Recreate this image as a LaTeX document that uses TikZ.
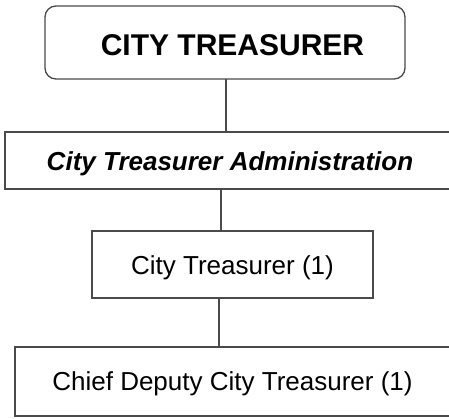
\documentclass[tikz,border=0pt]{standalone}
\usepackage{fontspec}
\setmainfont{Liberation Sans}
\begin{document}
\begin{tikzpicture}[x=1pt,y=-1pt,
  box/.style={draw=boxgray, line width=1.3pt, inner sep=0pt, outer sep=0pt, anchor=north west},
  lbl/.style={inner sep=0pt, anchor=base, font=\fontsize{26}{30}\selectfont, text=black},
  conn/.style={draw=boxgray, line width=1.3pt}]
\definecolor{boxgray}{HTML}{4A4A4A}
\useasboundingbox (0,0) rectangle (449,418);
\clip (0,0) rectangle (449,418);
\fill[white] (0,0) rectangle (449,418);
% boxes
\node[box, rounded corners=11pt, minimum width=360pt, minimum height=73pt] (b1) at (45,6) {};
\node[box, minimum width=480pt, minimum height=57pt] (b2) at (5,132) {};
\node[box, minimum width=281pt, minimum height=67pt] (b3) at (92,231) {};
\node[box, minimum width=480pt, minimum height=69pt] (b4) at (15,347) {};
% labels
\node[lbl, font=\fontsize{30}{34}\selectfont\bfseries] (t1) at (232.5,55) {CITY TREASURER};
\node[lbl, font=\fontsize{26}{30}\selectfont\bfseries\itshape] (t2) at (230,170) {City Treasurer Administration};
\node[lbl] (t3) at (232.5,274) {City Treasurer (1)};
\node[lbl] (t4) at (232.5,390) {Chief Deputy City Treasurer (1)};
% connectors
\coordinate (x1) at (226,0);
\coordinate (x2) at (221,0);
\coordinate (x3) at (219,0);
\draw[conn] (b1.south -| x1) -- (b2.north -| x1);
\draw[conn] (b2.south -| x2) -- (b3.north -| x2);
\draw[conn] (b3.south -| x3) -- (b4.north -| x3);
\end{tikzpicture}
\end{document}
